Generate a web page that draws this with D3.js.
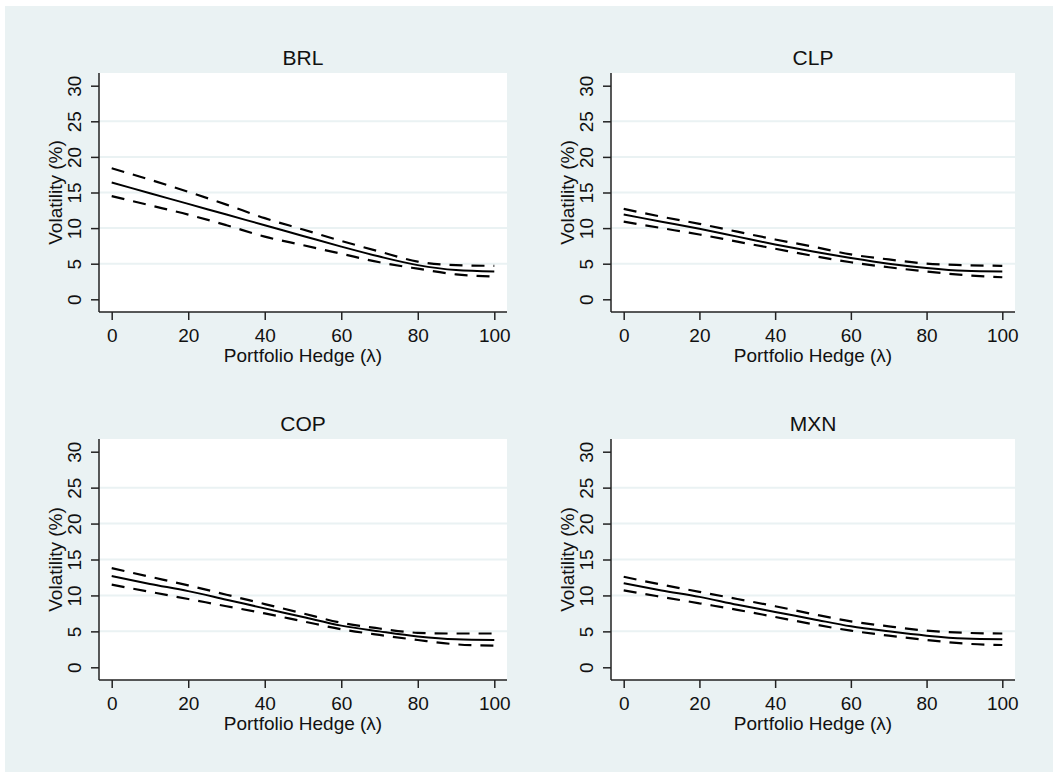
<!DOCTYPE html>
<html>
<head>
<meta charset="utf-8">
<script src="https://cdn.jsdelivr.net/npm/d3@7"></script>
<style>
  html, body { margin: 0; padding: 0; background: #ffffff; }
  svg { display: block; }
  text { font-family: "Liberation Sans", Arial, sans-serif; fill: #111; }
</style>
</head>
<body>
<svg id="chart" width="1053" height="772"></svg>
<script>
// Portfolio hedge ratio (lambda, %) at which volatility is evaluated
const hedge = [0, 10, 20, 30, 40, 50, 60, 70, 80, 90, 100];

// Currency panels, in reading order
const currencies = ["BRL", "CLP", "COP", "MXN"];

// Estimated volatility (%) and its confidence band, per currency
const brlVol   = [16.4, 14.9, 13.4, 11.9, 10.4, 8.9, 7.4, 6.0, 4.8, 4.1, 3.9];
const brlUpper = [18.4, 16.8, 15.1, 13.3, 11.4, 9.8, 8.2, 6.7, 5.3, 4.8, 4.7];
const brlLower = [14.5, 13.2, 11.9, 10.4, 8.8, 7.6, 6.4, 5.2, 4.3, 3.5, 3.2];

const clpVol   = [11.9, 10.9, 9.9, 8.8, 7.7, 6.7, 5.8, 5.0, 4.4, 4.0, 3.9];
const clpUpper = [12.7, 11.6, 10.6, 9.5, 8.4, 7.4, 6.3, 5.6, 5.0, 4.8, 4.7];
const clpLower = [10.9, 10.0, 9.1, 8.1, 7.1, 6.1, 5.2, 4.5, 3.9, 3.4, 3.1];

const copVol   = [12.7, 11.6, 10.6, 9.4, 8.2, 7.0, 5.8, 5.0, 4.3, 3.9, 3.8];
const copUpper = [13.8, 12.6, 11.4, 10.1, 8.8, 7.5, 6.2, 5.4, 4.8, 4.7, 4.7];
const copLower = [11.5, 10.5, 9.5, 8.5, 7.5, 6.4, 5.3, 4.5, 3.8, 3.2, 3.0];

const mxnVol   = [11.7, 10.7, 9.8, 8.7, 7.7, 6.7, 5.7, 5.0, 4.4, 4.0, 3.9];
const mxnUpper = [12.6, 11.5, 10.5, 9.5, 8.5, 7.4, 6.4, 5.7, 5.1, 4.8, 4.7];
const mxnLower = [10.7, 9.8, 8.9, 8.0, 7.0, 6.0, 5.1, 4.4, 3.8, 3.3, 3.1];

// Axis ticks
const xTicks = [0, 20, 40, 60, 80, 100];
const yTicks = [0, 5, 10, 15, 20, 25, 30];
const yGrid  = [5, 10, 15, 20, 25];

const xLabel = "Portfolio Hedge (λ)";
const yLabel = "Volatility (%)";

const series = {
  BRL: { vol: brlVol, upper: brlUpper, lower: brlLower },
  CLP: { vol: clpVol, upper: clpUpper, lower: clpLower },
  COP: { vol: copVol, upper: copUpper, lower: copLower },
  MXN: { vol: mxnVol, upper: mxnUpper, lower: mxnLower }
};

// ---- layout ----
const svg = d3.select("#chart");
const bg = "#eaf2f3";

svg.append("rect")
  .attr("x", 5).attr("y", 6)
  .attr("width", 1048).attr("height", 766)
  .attr("fill", bg);

const cols = [[99, 507], [611, 1015]];
const rows = [[73, 312], [439, 680]];
const pad = 12.7;

currencies.forEach((cur, i) => {
  const [left, right] = cols[i % 2];
  const [top, bottom] = rows[Math.floor(i / 2)];

  const x = d3.scaleLinear().domain([0, 100]).range([left + pad, right - pad]);
  const y = d3.scaleLinear().domain([0, 30]).range([bottom - pad, top + pad]);

  const g = svg.append("g");

  // plot region
  g.append("rect")
    .attr("x", left).attr("y", top)
    .attr("width", right - left).attr("height", bottom - top)
    .attr("fill", "#ffffff");

  // horizontal gridlines
  g.selectAll(".grid").data(yGrid).enter().append("line")
    .attr("x1", left).attr("x2", right)
    .attr("y1", d => y(d)).attr("y2", d => y(d))
    .attr("stroke", bg).attr("stroke-width", 2);

  // y axis
  const yAxis = d3.axisLeft(y).tickValues(yTicks).tickSize(8).tickPadding(0).tickFormat(d3.format("d"));
  const ya = g.append("g").attr("transform", `translate(${left},0)`).call(yAxis);
  ya.select(".domain").attr("d", `M0,${top}V${bottom}`).attr("stroke", "#222").attr("stroke-width", 1.5);
  ya.selectAll(".tick line").attr("stroke", "#222").attr("stroke-width", 1.5);
  ya.selectAll(".tick text")
    .attr("x", 0).attr("y", 0).attr("dy", null)
    .attr("transform", "translate(-24.5,0) rotate(-90)")
    .attr("text-anchor", "middle")
    .attr("dominant-baseline", "central")
    .style("font-size", "19px")
    .style("font-family", "'Liberation Sans', Arial, sans-serif")
    .attr("fill", "#111");

  // x axis
  const xAxis = d3.axisBottom(x).tickValues(xTicks).tickSize(8).tickPadding(0).tickFormat(d3.format("d"));
  const xa = g.append("g").attr("transform", `translate(0,${bottom})`).call(xAxis);
  xa.select(".domain").attr("d", `M${left},0H${right}`).attr("stroke", "#222").attr("stroke-width", 1.5);
  xa.selectAll(".tick line").attr("stroke", "#222").attr("stroke-width", 1.5);
  xa.selectAll(".tick text")
    .attr("y", 30).attr("dy", null)
    .style("font-size", "19px")
    .style("font-family", "'Liberation Sans', Arial, sans-serif")
    .attr("fill", "#111");

  // axis titles
  g.append("text")
    .attr("x", (left + right) / 2).attr("y", bottom + 50)
    .attr("text-anchor", "middle")
    .style("font-size", "19px")
    .text(xLabel);

  g.append("text")
    .attr("transform", `translate(${left - 37.5},${(top + bottom) / 2}) rotate(-90)`)
    .attr("text-anchor", "middle")
    .style("font-size", "19px")
    .text(yLabel);

  // panel title
  g.append("text")
    .attr("x", (left + right) / 2).attr("y", top - 8)
    .attr("text-anchor", "middle")
    .style("font-size", "21px")
    .text(cur);

  // lines
  const s = series[cur];
  const line = d3.line()
    .x((d, k) => x(hedge[k]))
    .y(d => y(d))
    .curve(d3.curveMonotoneX);

  [s.upper, s.lower].forEach(arr => {
    g.append("path")
      .attr("d", line(arr))
      .attr("fill", "none")
      .attr("stroke", "#000")
      .attr("stroke-width", 2.2)
      .attr("stroke-dasharray", "13,9");
  });

  g.append("path")
    .attr("d", line(s.vol))
    .attr("fill", "none")
    .attr("stroke", "#000")
    .attr("stroke-width", 2);
});
</script>
</body>
</html>
